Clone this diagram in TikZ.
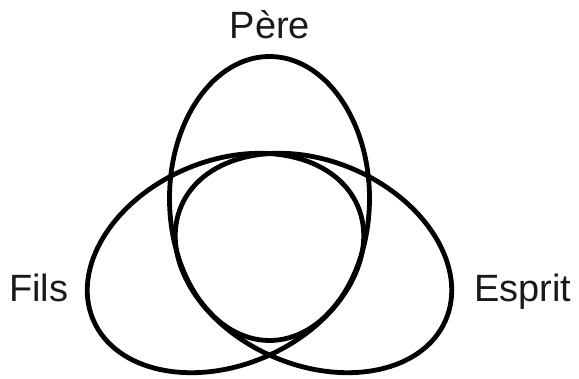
\documentclass[tikz,border=0pt]{standalone}
\usepackage{fontspec}
\setmainfont{Liberation Sans}
\begin{document}
\begin{tikzpicture}[x=1pt,y=1pt,
  ring/.style={draw=black,line width=4.8pt},
  lbl/.style={inner sep=0pt,font=\fontsize{38}{44}\selectfont,text=black!90}]
\useasboundingbox (0,0) rectangle (579,379);
\coordinate (cv) at (269.5,180.5);
\coordinate (cl) at (225.5,116);
\coordinate (cr) at (313.5,116);
\draw[ring] (cv) ellipse [x radius=100, y radius=142];
\draw[ring, rotate around={23.4:(cl)}] (cl) ellipse [x radius=144, y radius=102];
\draw[ring, rotate around={-23.4:(cr)}] (cr) ellipse [x radius=144, y radius=102];
\node[lbl, anchor=base] (pere) at (270,340) {Père};
\node[lbl, anchor=base west] (fils) at (9,77) {Fils};
\node[lbl, anchor=base west] (esprit) at (474,77) {Esprit};
\end{tikzpicture}
\end{document}
